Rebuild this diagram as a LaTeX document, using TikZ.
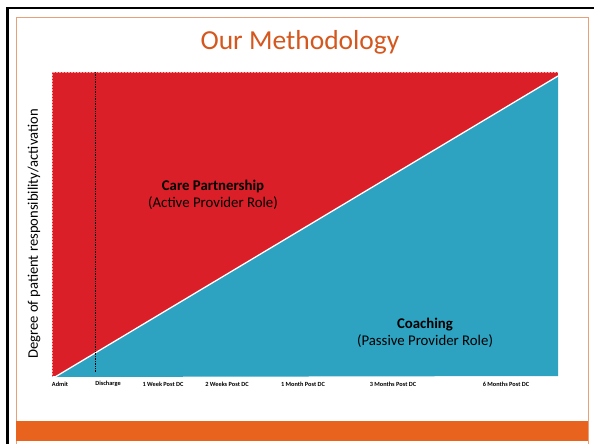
\documentclass[tikz,border=0pt]{standalone}
\usepackage{fontspec}
\setmainfont{Carlito}
\usepackage{xcolor}
\definecolor{careRed}{HTML}{DA1F28}
\definecolor{coachTeal}{HTML}{2DA3C1}
\definecolor{barOrange}{HTML}{E8641E}
\definecolor{titleOrange}{HTML}{D4581E}
\definecolor{frameOrange}{HTML}{E8A07A}
\tikzstyle{ticklabel} = [font=\bfseries\fontsize{6.3}{7}\selectfont, inner sep=0pt]
\tikzstyle{zone} = [align=center, font=\fontsize{14.8}{17}\selectfont, inner sep=0pt]
\tikzstyle{split} = [white, line width=1.3pt]
\tikzstyle{marker} = [black, line width=0.5pt, dash pattern=on 1pt off 0.7pt]

\begin{document}
\begin{tikzpicture}[x=1pt,y=-1pt]
    \useasboundingbox (0,0) rectangle (594,444);

    % slide frame and footer bar
    \draw [line width=2.6pt] (7.5,444) -- (7.5,8) -- (594,8);
    \draw [frameOrange, line width=0.8pt] (16,444) -- (16,17) -- (588,17) -- (588,444);
    \fill [barOrange] (16,421) rectangle (588,441);

    \node (title) [titleOrange, font=\fontsize{27.5}{30}\selectfont] at (300,42) {Our Methodology};

    % chart area
    \coordinate (tl) at (52,72);
    \coordinate (br) at (558,376);
    \coordinate (origin) at (55,377);
    \coordinate (peak) at (558,76);
    \fill [careRed] (tl) rectangle (br);
    \draw [red!40!white, densely dotted, line width=0.5pt] (52,376) -- (tl) -- (558,72);
    \fill [coachTeal] (origin) -- (peak) -- (br) -- cycle;
    \draw [split] (origin) -- (peak);

    \coordinate (dcTop) at (95,72);
    \coordinate (dcBot) at (95,372);
    \draw [marker] (dcTop) -- (dcBot);

    \node (care) [zone] at (213,195) {\textbf{Care Partnership}\\(Active Provider Role)};
    \node (coach) [zone] at (425,333) {\textbf{Coaching}\\(Passive Provider Role)};

    \node (yaxis) [rotate=90, font=\fontsize{14.6}{17}\selectfont] at (34,234) {Degree of patient responsibility/activation};

    % time axis
    \node (admit) [ticklabel] at (60,384) {Admit};
    \node (discharge) [ticklabel] at (108,384) {Discharge};
    \node (week1) [ticklabel] at (163,384) {1 Week Post DC};
    \node (week2) [ticklabel] at (227,384) {2 Weeks Post DC};
    \node (month1) [ticklabel] at (303,384) {1 Month Post DC};
    \node (month3) [ticklabel] at (393,384) {3 Months Post DC};
    \node (month6) [ticklabel] at (506,384) {6 Months Post DC};
\end{tikzpicture}
\end{document}
